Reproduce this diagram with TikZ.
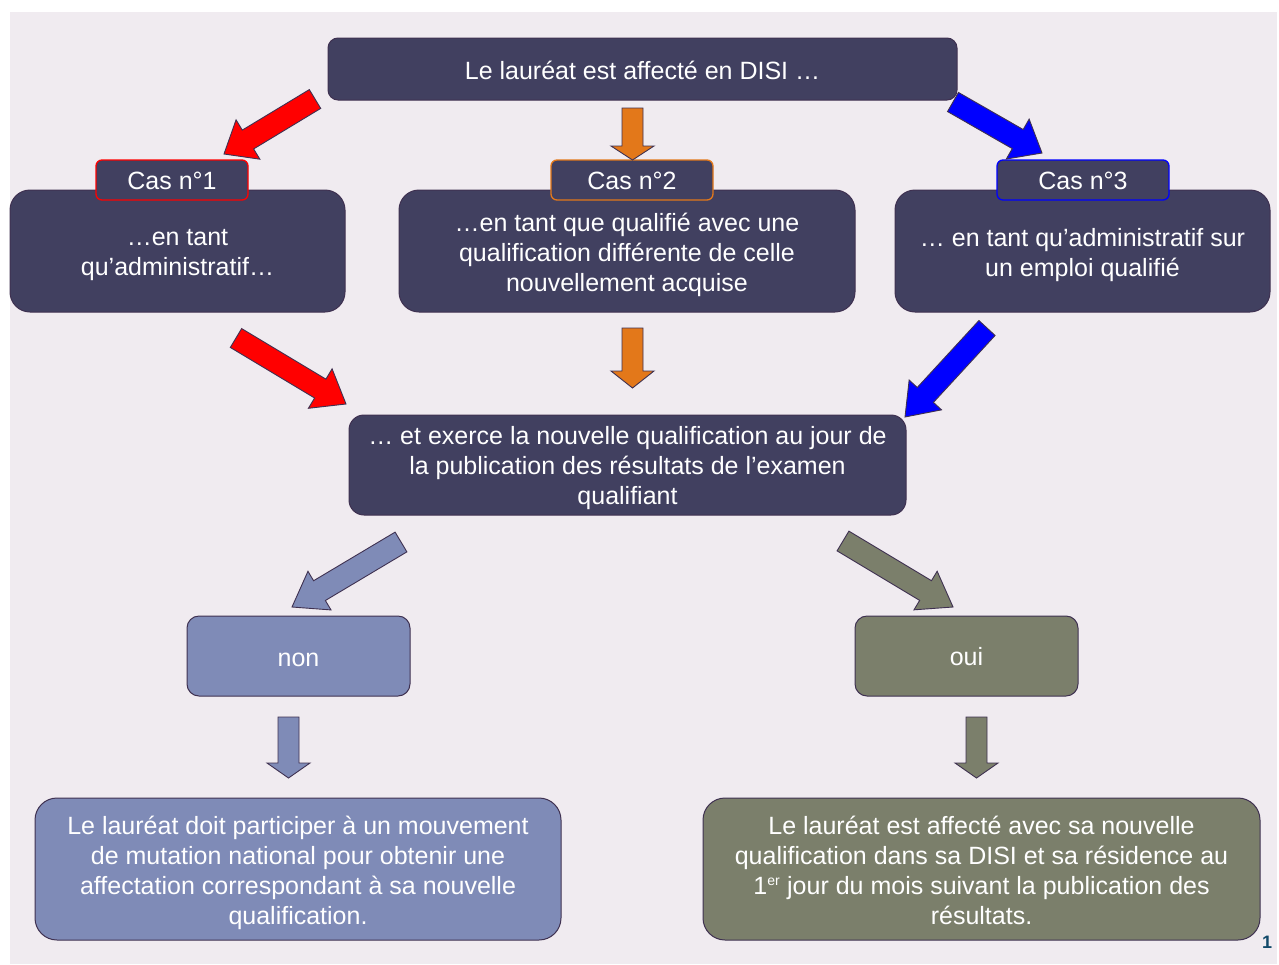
\documentclass[tikz,border=0pt]{standalone}
\usepackage{fontspec}
\setmainfont{Liberation Sans}
\usetikzlibrary{calc}
\definecolor{bgc}{HTML}{F0EBF0}
\definecolor{darkc}{HTML}{414060}
\definecolor{borderc}{HTML}{3F3151}
\definecolor{nonc}{HTML}{7F8BB7}
\definecolor{ouic}{HTML}{7B7F6B}
\definecolor{orangec}{HTML}{E3781A}
\definecolor{redc}{HTML}{FF0000}
\definecolor{bluec}{HTML}{0000FF}
\definecolor{pagec}{HTML}{124A6A}
\newcommand\barrow[6]{% fill, tail, tip, shaft half width, head half width, head length
  \coordinate (#2h) at ($(#3)!#6!(#2)$);
  \filldraw[fill=#1,draw=borderc,line width=0.9pt,line join=miter]
    ($(#2)!#4!90:(#3)$) -- ($(#2h)!#4!90:(#3)$) -- ($(#2h)!#5!90:(#3)$) -- (#3)
    -- ($(#2h)!#5!-90:(#3)$) -- ($(#2h)!#4!-90:(#3)$) -- ($(#2)!#4!-90:(#3)$) -- cycle;}
\begin{document}
\begin{tikzpicture}[x=1pt,y=-1pt,
  box/.style={draw=borderc,line width=1pt,fill=darkc,inner sep=0pt},
  txt/.style={text=white,align=center,font=\fontsize{25}{30}\selectfont,inner sep=0pt,yshift=-4pt},
  casbox/.style={box,rounded corners=6pt,minimum height=40,line width=1.3pt},
  bigbox/.style={box,rounded corners=20pt,minimum height=122}]
\useasboundingbox (0,0) rectangle (1279,964);
\fill[white] (0,0) rectangle (1279,964);
\fill[bgc] (10,12) rectangle (1277,964);

% top
\node[box,rounded corners=10pt,minimum width=629,minimum height=62] (top) at (642.5,69) {};
\node[txt,yshift=3pt] (topt) at (top.center) {Le lauréat est affecté en DISI …};

% three cases
\node[bigbox,minimum width=335] (c1) at (177.5,251) {};
\node[txt] (c1t) at (c1.center) {…en tant\\qu’administratif…};
\node[bigbox,minimum width=456] (c2) at (627,251) {};
\node[txt] (c2t) at (c2.center) {…en tant que qualifié avec une\\qualification différente de celle\\nouvellement acquise};
\node[bigbox,minimum width=375] (c3) at (1082.5,251) {};
\node[txt] (c3t) at (c3.center) {… en tant qu’administratif sur\\un emploi qualifié};

\node[casbox,draw=redc,minimum width=152] (k1) at (172,180) {};
\node[txt,yshift=3pt] (k1t) at (k1.center) {Cas n°1};
\node[casbox,draw=orangec,minimum width=162] (k2) at (632,180) {};
\node[txt,yshift=3pt] (k2t) at (k2.center) {Cas n°2};
\node[casbox,draw=bluec,minimum width=172] (k3) at (1083,180) {};
\node[txt,yshift=3pt] (k3t) at (k3.center) {Cas n°3};

% middle
\node[box,rounded corners=15pt,minimum width=557,minimum height=100] (mid) at (627.5,465) {};
\node[txt,yshift=1pt] (midt) at (mid.center) {… et exerce la nouvelle qualification au jour de\\la publication des résultats de l’examen\\qualifiant};

% non / oui
\node[box,fill=nonc,rounded corners=12pt,minimum width=223,minimum height=80] (non) at (298.5,656) {};
\node[txt] (nont) at (non.center) {non};
\node[box,fill=ouic,rounded corners=12pt,minimum width=223,minimum height=80] (oui) at (966.5,656) {};
\node[txt,yshift=3pt] (ouit) at (oui.center) {oui};

% bottom
\node[box,fill=nonc,rounded corners=22pt,minimum width=526,minimum height=142] (bl) at (298,869) {};
\node[txt] (blt) at (bl.center) {Le lauréat doit participer à un mouvement\\de mutation national pour obtenir une\\affectation correspondant à sa nouvelle\\qualification.};
\node[box,fill=ouic,rounded corners=22pt,minimum width=557,minimum height=142] (br) at (981.5,869) {};
\node[txt,yshift=3pt] (brt) at (br.center) {Le lauréat est affecté avec sa nouvelle\\qualification dans sa DISI et sa résidence au\\1\textsuperscript{\fontsize{14}{14}\selectfont er} jour du mois suivant la publication des\\résultats.};

\node[font=\bfseries\fontsize{18}{18}\selectfont,text=pagec,inner sep=0pt] (pg) at (1267,942) {1};

% arrows
\coordinate (r1a) at (315,99);  \coordinate (r1b) at (224,154);
\coordinate (o1a) at (632.5,108); \coordinate (o1b) at (632.5,160);
\coordinate (b1a) at (953,102); \coordinate (b1b) at (1042,153);
\coordinate (r2a) at (236,338); \coordinate (r2b) at (346,404);
\coordinate (o2a) at (632.5,328); \coordinate (o2b) at (632.5,388);
\coordinate (b2a) at (987,328); \coordinate (b2b) at (905,417);
\coordinate (n1a) at (401,542); \coordinate (n1b) at (292,607);
\coordinate (u1a) at (843,541); \coordinate (u1b) at (953,607);
\coordinate (n2a) at (288.5,717); \coordinate (n2b) at (288.5,778);
\coordinate (u2a) at (976.5,717); \coordinate (u2b) at (976.5,778);

\barrow{redc}{r1a}{r1b}{11pt}{23pt}{28pt}
\barrow{orangec}{o1a}{o1b}{10.5pt}{21.5pt}{14pt}
\barrow{bluec}{b1a}{b1b}{11pt}{23pt}{28pt}
\barrow{redc}{r2a}{r2b}{11pt}{23pt}{30pt}
\barrow{orangec}{o2a}{o2b}{10.5pt}{21.5pt}{17pt}
\barrow{bluec}{b2a}{b2b}{11pt}{22pt}{30pt}
\barrow{nonc}{n1a}{n1b}{11.5pt}{22.5pt}{32pt}
\barrow{ouic}{u1a}{u1b}{11.5pt}{22.5pt}{32pt}
\barrow{nonc}{n2a}{n2b}{10.5pt}{21.5pt}{15pt}
\barrow{ouic}{u2a}{u2b}{10.5pt}{21.5pt}{15pt}
\end{tikzpicture}
\end{document}
